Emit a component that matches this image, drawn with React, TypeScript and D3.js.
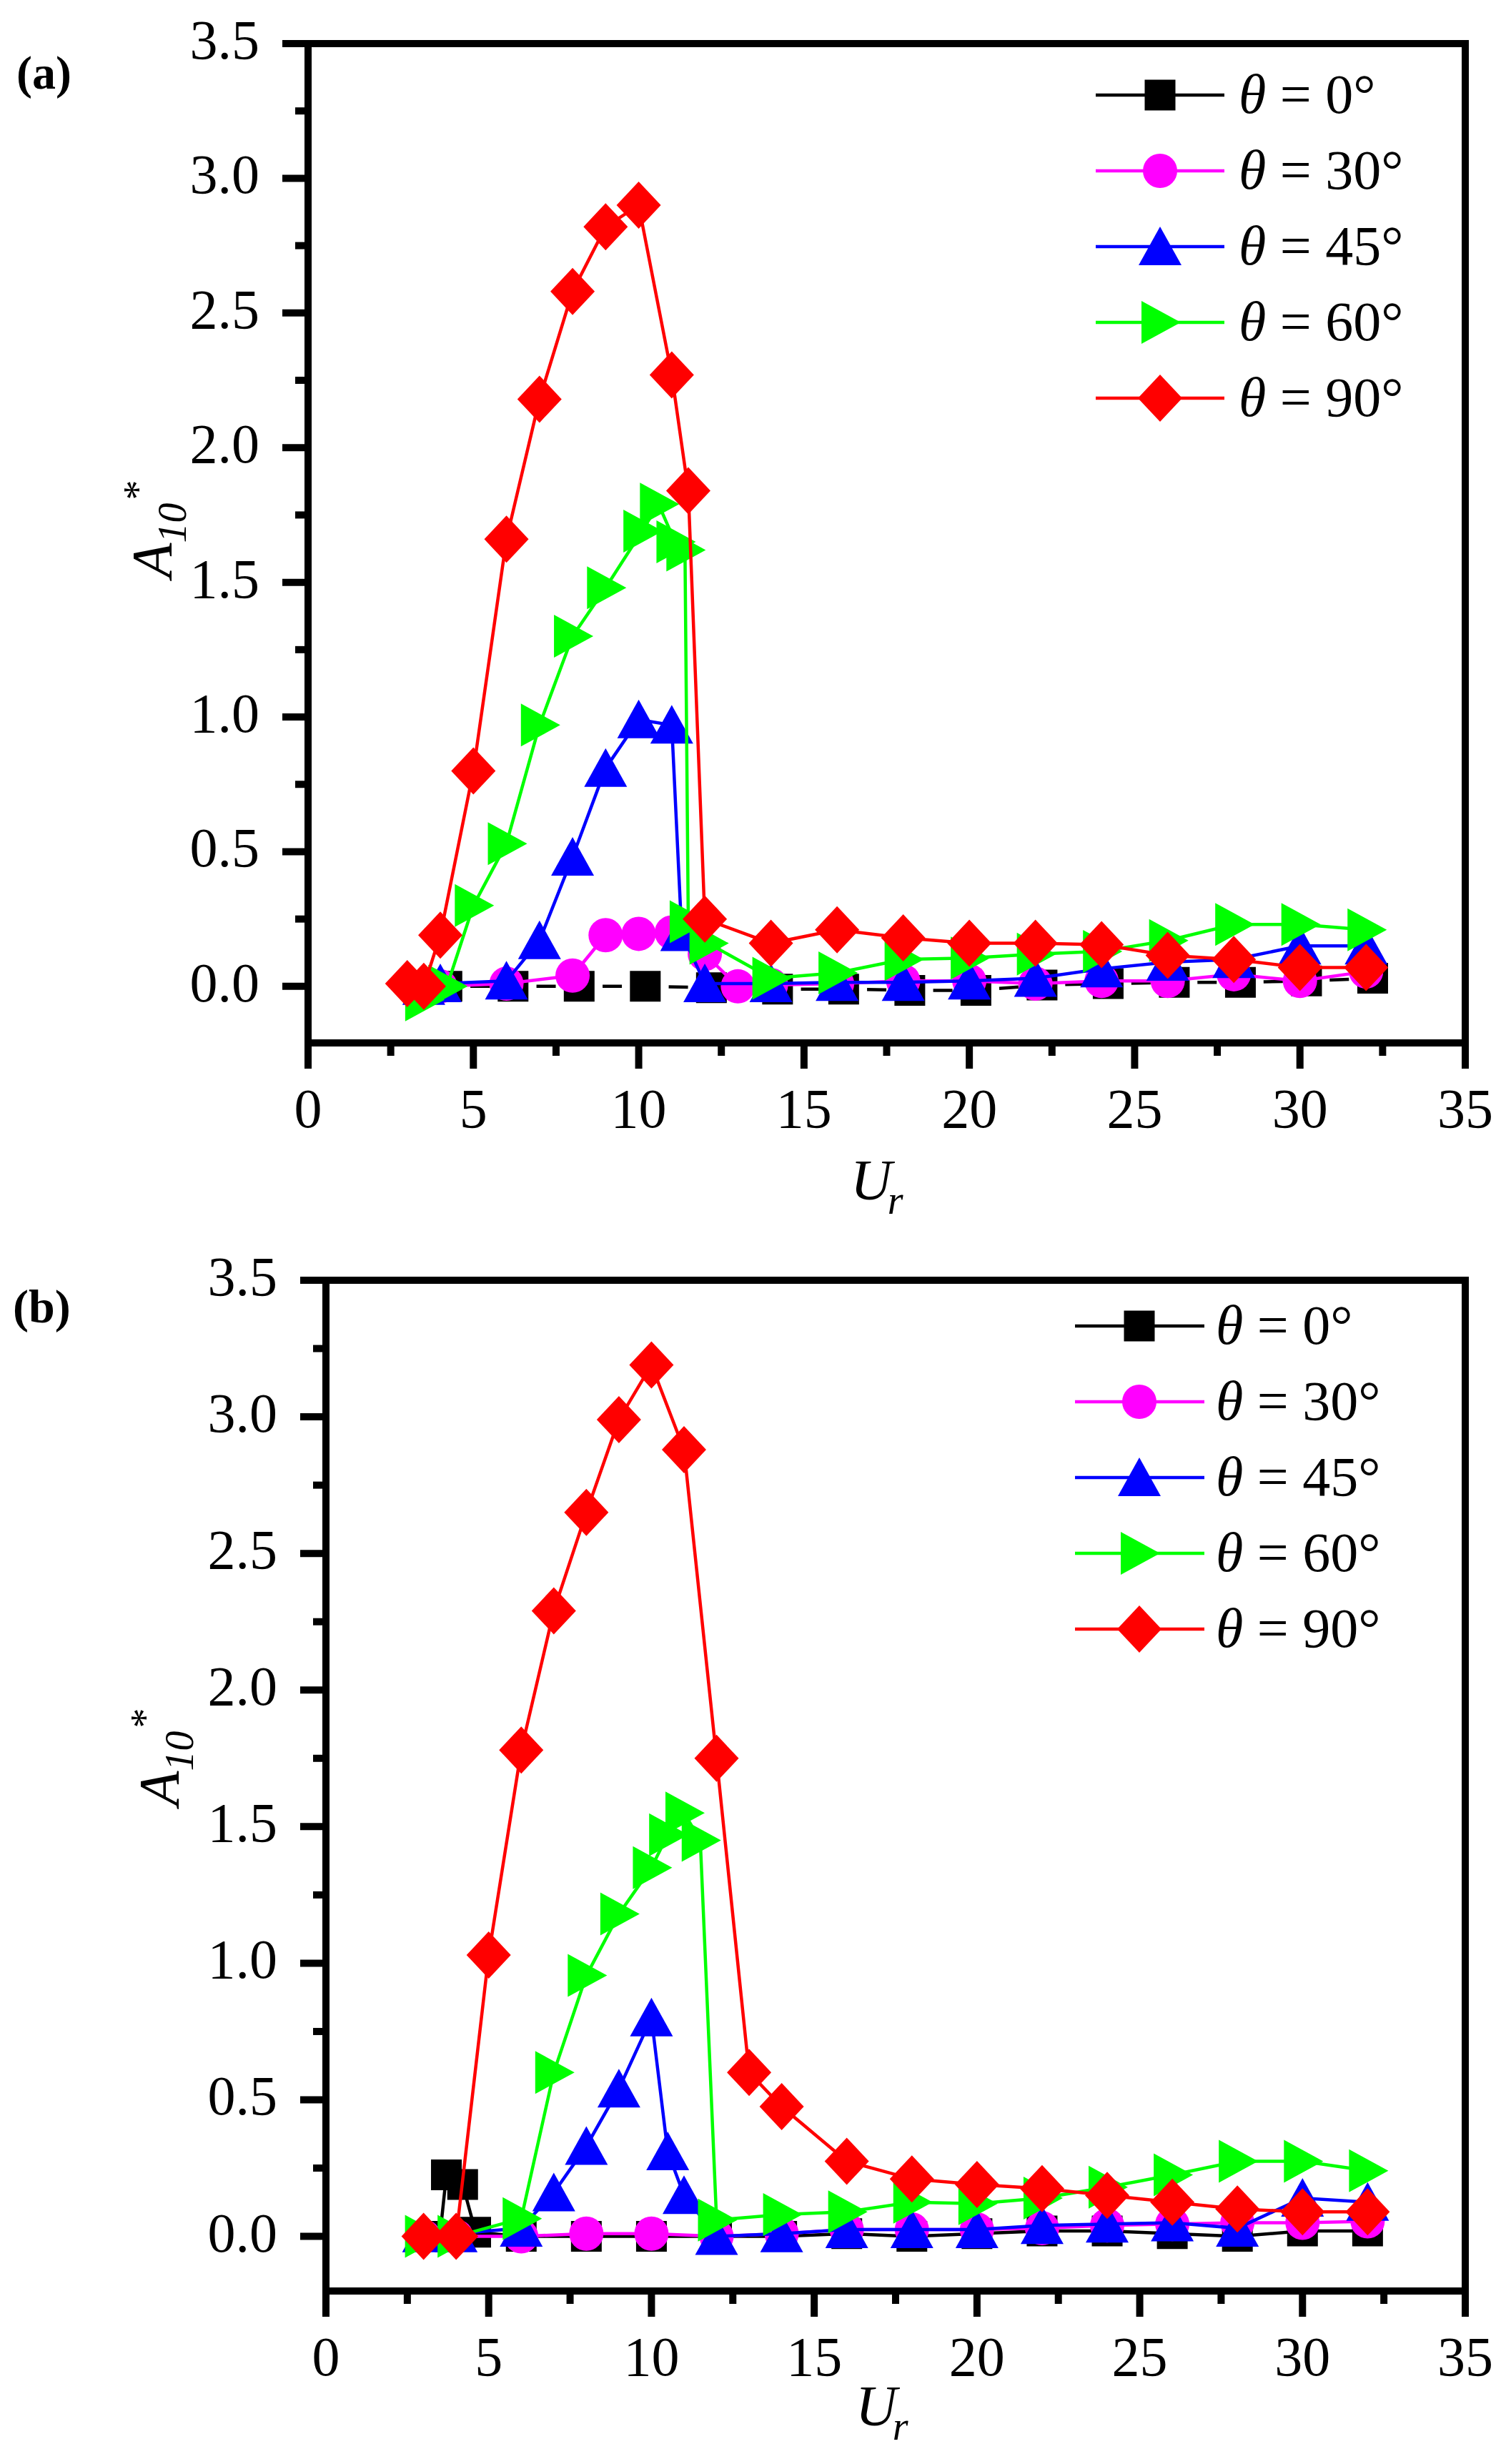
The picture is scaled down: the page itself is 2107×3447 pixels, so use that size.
import * as d3 from "d3"

// ---- data: panel (a) ----
const ANGLES = [0, 30, 45, 60, 90]
const COLORS = ["#000000", "#ff00ff", "#0000ff", "#00ff00", "#ff0000"]
const SHAPES = ["square", "circle", "triangleUp", "triangleRight", "diamond"]

const A_UR_0 = [4.2, 6.2, 8.2, 10.2, 12.2, 14.2, 16.2, 18.2, 20.2, 22.2, 24.2, 26.2, 28.2, 30.2, 32.2]
const A_AMP_0 = [0.0, 0.0, 0.0, 0.0, -0.005, -0.01, -0.01, -0.015, -0.015, 0.005, 0.01, 0.015, 0.015, 0.02, 0.03]

const A_UR_30 = [4, 6, 8, 9, 10, 11, 12, 13, 14, 16, 18, 20, 22, 24, 26, 28, 30, 32]
const A_AMP_30 = [0.0, 0.01, 0.04, 0.19, 0.195, 0.2, 0.12, 0.0, 0.005, 0.01, 0.02, 0.02, 0.01, 0.02, 0.02, 0.045, 0.02, 0.055]

const A_UR_45 = [3.5, 4, 6, 7, 8, 9, 10, 11, 11.3, 12, 14, 16, 18, 20, 22, 24, 26, 28, 30, 32]
const A_AMP_45 = [0.0, 0.01, 0.02, 0.17, 0.48, 0.81, 0.99, 0.97, 0.2, 0.01, 0.01, 0.015, 0.015, 0.02, 0.03, 0.065, 0.09, 0.1, 0.15, 0.15]

const A_UR_60 = [3.5, 4.2, 5, 6, 7, 8, 9, 10.1, 10.6, 11.1, 11.4, 11.5, 12.1, 14, 16, 18, 20, 22, 24, 26, 28, 30, 32]
const A_AMP_60 = [-0.05, 0.0, 0.3, 0.53, 0.97, 1.3, 1.48, 1.69, 1.79, 1.65, 1.62, 0.24, 0.16, 0.03, 0.05, 0.1, 0.105, 0.12, 0.13, 0.17, 0.23, 0.23, 0.21]

const A_UR_90 = [3, 3.5, 4, 5, 6, 7, 8, 9, 10, 11, 11.5, 12, 14, 16, 18, 20, 22, 24, 26, 28, 30, 32]
const A_AMP_90 = [0.01, 0.0, 0.19, 0.8, 1.66, 2.18, 2.58, 2.82, 2.9, 2.27, 1.84, 0.25, 0.16, 0.21, 0.18, 0.16, 0.16, 0.155, 0.115, 0.1, 0.07, 0.07]

// ---- data: panel (b) ----
const B_UR_0 = [3, 3.5, 3.7, 4.2, 4.6, 6, 8, 10, 12, 14, 16, 18, 20, 22, 24, 26, 28, 30, 32]
const B_AMP_0 = [0.0, 0.0, 0.225, 0.19, 0.015, 0.0, 0.0, 0.0, 0.0, 0.0, 0.01, 0.0, 0.01, 0.02, 0.02, 0.01, 0.0, 0.02, 0.02]

const B_UR_30 = [3, 4, 6, 8, 10, 12, 14, 16, 18, 20, 22, 24, 26, 28, 30, 32]
const B_AMP_30 = [0.0, 0.0, 0.0, 0.01, 0.01, 0.0, 0.01, 0.025, 0.025, 0.025, 0.03, 0.04, 0.045, 0.05, 0.05, 0.055]

const B_UR_45 = [3, 4, 6, 7, 8, 9, 10, 10.5, 11, 12, 14, 16, 18, 20, 22, 24, 26, 28, 30, 32]
const B_AMP_45 = [0.01, 0.01, 0.03, 0.16, 0.33, 0.54, 0.8, 0.31, 0.15, 0.0, 0.01, 0.025, 0.025, 0.025, 0.04, 0.045, 0.05, 0.03, 0.14, 0.125]

const B_UR_60 = [3, 4, 6, 7, 8, 9, 10, 10.5, 11, 11.5, 12, 14, 16, 18, 20, 22, 24, 26, 28, 30, 32]
const B_AMP_60 = [0.0, 0.0, 0.065, 0.6, 0.955, 1.18, 1.35, 1.47, 1.55, 1.45, 0.06, 0.08, 0.09, 0.125, 0.12, 0.14, 0.18, 0.225, 0.275, 0.275, 0.24]

const B_UR_90 = [3, 4, 5, 6, 7, 8, 9, 10, 11, 12, 13, 14, 16, 18, 20, 22, 24, 26, 28, 30, 32]
const B_AMP_90 = [0.0, 0.0, 1.03, 1.78, 2.29, 2.65, 2.99, 3.19, 2.88, 1.75, 0.6, 0.475, 0.275, 0.21, 0.19, 0.175, 0.15, 0.125, 0.1, 0.09, 0.09]

// ticks
const X_MAJOR = [0, 5, 10, 15, 20, 25, 30, 35]
const X_MINOR = [2.5, 7.5, 12.5, 17.5, 22.5, 27.5, 32.5]
const Y_MAJOR = [0, 0.5, 1.0, 1.5, 2.0, 2.5, 3.0, 3.5]
const Y_MINOR = [0.25, 0.75, 1.25, 1.75, 2.25, 2.75, 3.25]

const FONT = "'Liberation Serif', 'Times New Roman', serif"

const panelA = [
  { x: A_UR_0, y: A_AMP_0 },
  { x: A_UR_30, y: A_AMP_30 },
  { x: A_UR_45, y: A_AMP_45 },
  { x: A_UR_60, y: A_AMP_60 },
  { x: A_UR_90, y: A_AMP_90 },
]
const panelB = [
  { x: B_UR_0, y: B_AMP_0 },
  { x: B_UR_30, y: B_AMP_30 },
  { x: B_UR_45, y: B_AMP_45 },
  { x: B_UR_60, y: B_AMP_60 },
  { x: B_UR_90, y: B_AMP_90 },
]

function Marker({ shape, color, cx, cy }: { shape: string; color: string; cx: number; cy: number }) {
  const t = `translate(${cx},${cy})`
  if (shape === "circle") return <circle cx={cx} cy={cy} r={24} fill={color} />
  let d = ""
  if (shape === "square") d = "M-21.5,-21.5H21.5V21.5H-21.5Z"
  if (shape === "triangleUp") d = "M0,-28L30,26L-30,26Z"
  if (shape === "triangleRight") d = "M-26,-30L29,0L-26,30Z"
  if (shape === "diamond") d = "M0,-33L31,0L0,33L-31,0Z"
  return <path d={d} transform={t} fill={color} />
}

interface Layout {
  left: number
  right: number
  top: number
  bottom: number
  yMin: number
  tag: string
  tagX: number
  tagY: number
  legX0: number
  legX1: number
  legMark: number
  legText: number
  legY0: number
  legDy: number
  yTitleX: number
  yTitleY: number
  xTitleX: number
  xTitleY: number
  dashedZero: boolean
}

function Panel({ lay, series }: { lay: Layout; series: { x: number[]; y: number[] }[] }) {
  const x = d3.scaleLinear().domain([0, 35]).range([lay.left, lay.right])
  const y = d3.scaleLinear().domain([lay.yMin, 3.5]).range([lay.bottom, lay.top])
  const fmt = d3.format(".1f")
  const seg = x(2) - x(0)
  const dash = 27
  const gap = (seg - dash) / 2

  return (
    <g fontFamily={FONT}>
      {series.map((s, i) => {
        const pts = s.x.map((v, k) => [v, s.y[k]] as [number, number])
        const line = d3
          .line<[number, number]>()
          .x((d) => x(d[0]))
          .y((d) => y(d[1]))
        return (
          <g key={i}>
            <path
              d={line(pts) ?? ""}
              fill="none"
              stroke={COLORS[i]}
              strokeWidth={4.5}
              strokeDasharray={i === 0 && lay.dashedZero ? `0 ${gap} ${dash} ${gap}` : undefined}
            />
            {pts.map((p, k) => (
              <Marker key={k} shape={SHAPES[i]} color={COLORS[i]} cx={x(p[0])} cy={y(p[1])} />
            ))}
          </g>
        )
      })}

      {/* frame */}
      <rect
        x={lay.left}
        y={lay.top}
        width={lay.right - lay.left}
        height={lay.bottom - lay.top}
        fill="none"
        stroke="#000"
        strokeWidth={10}
      />

      {/* y ticks */}
      {Y_MAJOR.map((v) => (
        <g key={"ym" + v}>
          <line x1={lay.left - 36} x2={lay.left} y1={y(v)} y2={y(v)} stroke="#000" strokeWidth={10} />
          <text x={lay.left - 68} y={y(v) + 21} fontSize={78} textAnchor="end">
            {fmt(v)}
          </text>
        </g>
      ))}
      {Y_MINOR.map((v) => (
        <line key={"yn" + v} x1={lay.left - 18} x2={lay.left} y1={y(v)} y2={y(v)} stroke="#000" strokeWidth={10} />
      ))}

      {/* x ticks */}
      {X_MAJOR.map((v) => (
        <g key={"xm" + v}>
          <line x1={x(v)} x2={x(v)} y1={lay.bottom} y2={lay.bottom + 36} stroke="#000" strokeWidth={10} />
          <text x={x(v)} y={lay.bottom + 118} fontSize={78} textAnchor="middle">
            {v}
          </text>
        </g>
      ))}
      {X_MINOR.map((v) => (
        <line key={"xn" + v} x1={x(v)} x2={x(v)} y1={lay.bottom} y2={lay.bottom + 18} stroke="#000" strokeWidth={10} />
      ))}

      {/* axis titles */}
      <text x={lay.xTitleX} y={lay.xTitleY} fontSize={80} fontStyle="italic">
        U
        <tspan fontSize={56} dx={-6} dy={20}>
          r
        </tspan>
      </text>
      <text
        transform={`translate(${lay.yTitleX},${lay.yTitleY}) rotate(-90)`}
        fontSize={80}
        fontStyle="italic"
        textAnchor="middle"
      >
        A
        <tspan fontSize={56} dy={20}>
          10
        </tspan>
        <tspan fontSize={56} fontStyle="normal" dx={4} dy={-48}>
          *
        </tspan>
      </text>

      {/* panel tag */}
      <text x={lay.tagX} y={lay.tagY} fontSize={66} fontWeight="bold">
        {lay.tag}
      </text>

      {/* legend */}
      {ANGLES.map((a, i) => {
        const ly = lay.legY0 + i * lay.legDy
        return (
          <g key={"lg" + a}>
            <line x1={lay.legX0} x2={lay.legX1} y1={ly} y2={ly} stroke={COLORS[i]} strokeWidth={4.5} />
            <Marker shape={SHAPES[i]} color={COLORS[i]} cx={lay.legMark} cy={ly} />
            <text x={lay.legText} y={ly + 25} fontSize={78}>
              <tspan fontStyle="italic">θ</tspan> = {a}°
            </text>
          </g>
        )
      })}
    </g>
  )
}

const layoutA: Layout = {
  left: 431,
  right: 2050,
  top: 61,
  bottom: 1459,
  yMin: -0.21,
  tag: "(a)",
  tagX: 23,
  tagY: 124,
  legX0: 1533,
  legX1: 1713,
  legMark: 1623,
  legText: 1733,
  legY0: 133,
  legDy: 106,
  yTitleX: 240,
  yTitleY: 740,
  xTitleX: 1190,
  xTitleY: 1678,
  dashedZero: true,
}

const layoutB: Layout = {
  left: 456,
  right: 2050,
  top: 1791,
  bottom: 3205,
  yMin: -0.2,
  tag: "(b)",
  tagX: 18,
  tagY: 1850,
  legX0: 1504,
  legX1: 1685,
  legMark: 1594,
  legText: 1701,
  legY0: 1855,
  legDy: 106,
  yTitleX: 250,
  yTitleY: 2458,
  xTitleX: 1197,
  xTitleY: 3393,
  dashedZero: false,
}

export default function App() {
  return (
    <svg
      width={2107}
      height={3447}
      viewBox="0 0 2107 3447"
      style={{ position: "absolute", left: 0, top: 0, background: "#fff" }}
    >
      <rect width={2107} height={3447} fill="#fff" />
      <Panel lay={layoutA} series={panelA} />
      <Panel lay={layoutB} series={panelB} />
    </svg>
  )
}
